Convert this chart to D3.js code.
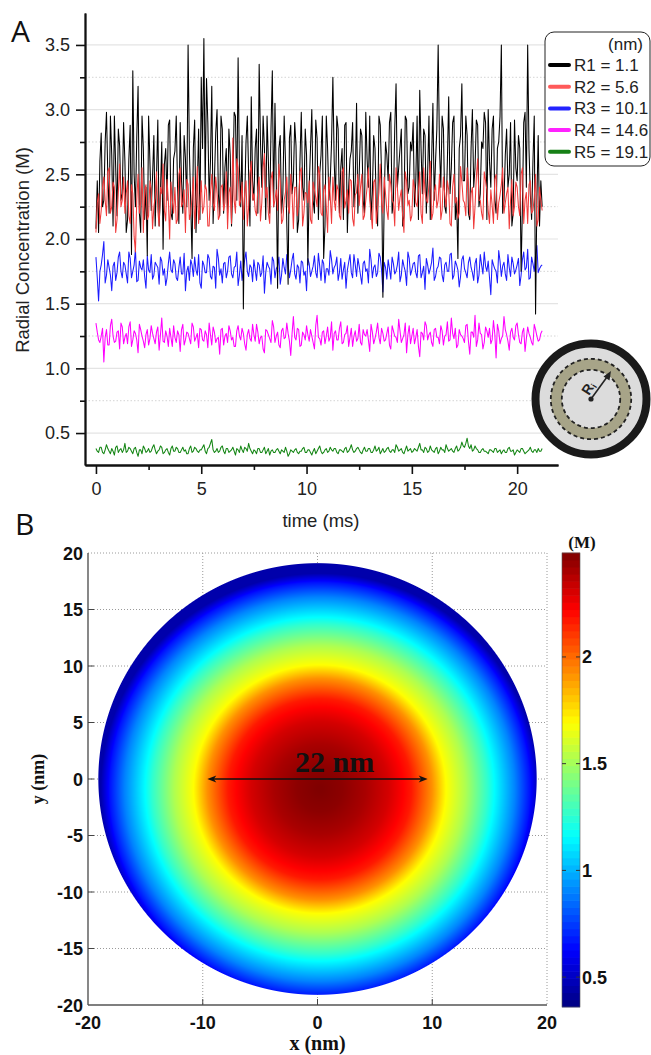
<!DOCTYPE html>
<html><head><meta charset="utf-8">
<script src="https://cdn.jsdelivr.net/npm/d3@7"></script>
<style>body{margin:0;background:#fff} svg{display:block}</style>
</head><body>
<svg id="chart" width="651" height="1055"></svg>
<script>
// ---------- Panel A data ----------
const dt = 0.0625; // sampling interval (ms)
const seriesNames = ["R1 = 1.1","R2 = 5.6","R3 = 10.1","R4 = 14.6","R5 = 19.1"];
const seriesColors = ["#000000","#f03a3a","#1c1cff","#ff00ff","#138513"];
const legendColors = ["#000000","#ff5a5a","#2323ff","#ff22ff","#168016"];
// samples at even steps (a) and odd steps (b)
const r1a = [2.08,2.05,2.82,2.30,2.98,2.20,2.65,2.95,2.18,2.72,
2.35,2.60,2.15,2.88,3.30,2.25,3.18,2.05,2.70,2.40,
2.95,2.22,2.80,2.48,2.10,2.75,2.58,2.30,2.92,2.15,
2.68,2.40,2.90,2.20,2.62,3.50,2.28,2.70,2.05,2.85,
3.25,3.55,3.24,2.30,3.18,2.45,3.00,2.18,2.85,2.55,
2.20,2.65,2.40,2.95,3.40,2.25,1.46,2.75,2.50,3.10,
2.30,2.85,3.35,2.40,2.70,2.95,2.20,3.30,3.05,1.62,
2.80,2.35,2.60,1.65,2.88,2.45,2.72,2.15,2.98,2.30,
2.65,2.40,3.00,2.20,2.78,2.50,2.95,2.10,2.70,2.45,
3.25,2.30,2.85,2.55,2.15,2.90,2.40,2.68,2.25,3.05,
2.50,2.80,2.20,2.62,2.95,2.35,2.70,2.10,2.88,1.55,
2.75,2.45,2.98,2.30,3.20,2.55,2.85,2.18,2.92,2.40,
2.68,2.25,2.95,3.15,2.35,2.80,2.50,2.15,3.05,2.60,
3.50,2.40,2.85,2.20,3.10,2.55,2.95,2.30,2.70,3.20,
2.45,2.80,2.15,3.00,2.55,2.88,2.35,2.70,2.90,3.00,
2.40,2.95,2.20,2.75,3.50,2.30,2.85,2.50,2.10,2.92,
2.45,2.70,2.25,2.98,3.50,2.35,2.60,1.42,2.80,2.45];
const r1b = [2.45,2.60,2.25,2.75,2.50,2.95,2.10,2.55,2.85,2.30,
2.90,2.05,2.62,1.88,2.50,2.78,2.20,2.95,2.15,1.87,
2.60,2.48,2.10,2.92,2.35,1.92,2.70,2.88,2.20,2.62,
2.95,2.12,2.45,2.80,2.25,2.68,1.85,2.92,2.40,2.15,
2.70,2.40,2.90,2.60,2.12,2.82,2.35,2.95,2.20,2.70,
2.85,2.10,2.98,2.30,2.55,2.80,2.30,2.95,2.10,2.45,
2.70,2.20,2.75,2.95,2.15,2.60,2.85,2.25,2.45,2.70,
2.20,2.95,2.12,2.78,2.35,2.90,2.05,2.60,2.40,2.85,
1.80,2.70,2.30,2.92,2.15,2.65,1.85,2.95,2.30,2.75,
2.60,2.95,2.20,2.70,2.88,2.05,2.62,2.90,2.45,2.20,
2.85,2.30,2.98,2.40,2.15,2.80,2.25,2.95,2.50,2.30,
2.65,2.90,2.20,2.85,2.40,2.70,2.10,2.95,2.35,2.75,
2.90,2.45,2.15,2.70,2.85,2.20,2.95,2.60,2.30,2.85,
2.70,2.95,2.25,2.60,2.35,2.90,2.15,1.85,2.80,2.45,
2.95,2.20,2.70,2.40,2.92,2.25,2.75,2.98,2.15,2.60,
2.85,2.30,2.70,2.95,2.20,2.65,2.40,2.90,2.20,2.55,
2.80,1.75,2.90,2.40,2.70,2.15,2.95,2.30,2.10,2.25];
const r2a = [2.05,2.35,2.22,2.48,2.18,2.55,2.25,2.40,2.15,2.58,
2.30,2.20,2.45,2.12,2.35,1.90,2.50,2.28,2.05,2.42,
2.18,2.38,2.25,2.52,2.10,2.35,2.22,2.46,2.00,2.30,
2.40,2.15,2.55,2.28,2.05,2.42,2.20,2.48,2.32,2.12,
2.45,2.25,2.38,2.10,2.50,2.22,2.35,2.18,2.42,2.28,
2.08,2.40,2.78,2.20,2.55,2.30,2.15,2.45,2.25,2.60,
2.35,2.18,2.48,2.28,2.66,2.40,2.12,2.52,2.30,2.22,
2.44,2.15,2.36,2.25,2.50,2.08,2.40,2.28,2.55,2.20,
2.35,2.45,2.12,2.38,2.25,2.50,2.18,2.42,2.05,2.33,
2.48,2.22,2.38,2.15,2.55,2.30,2.20,2.45,2.10,2.36,
2.26,2.50,2.18,2.40,2.30,2.08,2.46,2.25,2.58,2.20,
2.35,2.15,2.42,2.28,2.55,2.22,2.38,2.05,2.45,2.30,
2.18,2.40,2.25,2.52,2.12,2.36,2.28,2.60,2.20,2.42,
2.30,2.15,2.48,2.25,2.38,2.10,2.50,2.32,2.20,2.44,
2.28,2.55,2.18,2.40,2.25,2.62,2.30,2.15,2.45,2.22,
2.38,2.12,2.50,2.28,2.42,2.20,2.35,2.08,2.46,2.25,
2.40,2.18,2.55,2.30,2.12,2.45,2.22,2.50,2.15,2.30];
const r2b = [2.28,2.12,2.40,2.30,2.52,2.20,2.44,2.05,2.36,2.25,
2.48,2.35,2.18,2.42,2.02,2.30,2.20,2.55,2.38,2.15,
2.45,2.08,2.32,2.22,2.40,2.58,2.14,2.30,2.44,2.20,
2.12,2.50,2.25,2.38,2.46,2.15,2.32,2.08,2.56,2.28,
2.20,2.42,2.10,2.35,2.28,2.48,2.15,2.40,2.22,2.52,
2.36,2.12,2.30,2.62,2.26,2.44,2.35,2.10,2.50,2.30,
2.22,2.40,2.14,2.55,2.32,2.20,2.46,2.25,2.38,2.58,
2.12,2.30,2.48,2.20,2.35,2.40,2.18,2.52,2.10,2.36,
2.28,2.15,2.44,2.32,2.56,2.20,2.38,2.25,2.48,2.12,
2.30,2.42,2.18,2.52,2.24,2.38,2.46,2.16,2.34,2.50,
2.40,2.15,2.30,2.55,2.20,2.44,2.12,2.36,2.28,2.48,
2.22,2.50,2.30,2.10,2.40,2.32,2.18,2.52,2.26,2.14,
2.46,2.28,2.38,2.20,2.55,2.30,2.42,2.15,2.36,2.24,
2.50,2.22,2.34,2.45,2.12,2.40,2.28,2.16,2.56,2.30,
2.18,2.42,2.35,2.08,2.48,2.30,2.20,2.52,2.38,2.12,
2.26,2.46,2.15,2.34,2.55,2.28,2.40,2.30,2.18,2.44,
2.25,2.50,2.12,2.36,2.42,2.20,2.32,2.10,2.40,2.22];
const r3a = [1.86,1.52,1.80,1.98,1.72,1.78,1.60,1.82,1.74,1.90,
1.70,1.80,1.66,1.85,1.75,1.92,1.68,1.78,1.84,1.62,
1.76,1.88,1.72,1.80,1.65,1.83,1.77,1.70,1.90,1.74,
1.81,1.68,1.86,1.73,1.60,1.79,1.84,1.71,1.76,1.88,
1.62,1.80,1.74,1.85,1.69,1.78,1.92,1.72,1.66,1.82,
1.75,1.87,1.70,1.79,1.64,1.83,1.76,1.90,1.71,1.78,
1.84,1.68,1.80,1.74,1.58,1.82,1.77,1.86,1.70,1.79,
1.65,1.85,1.73,1.80,1.76,1.89,1.69,1.78,1.83,1.72,
1.60,1.81,1.75,1.87,1.70,1.79,1.84,1.66,1.77,1.91,
1.73,1.80,1.68,1.85,1.76,1.62,1.82,1.74,1.88,1.71,
1.79,1.65,1.83,1.77,1.92,1.70,1.80,1.74,1.86,1.59,
1.78,1.84,1.69,1.81,1.75,1.90,1.72,1.79,1.64,1.85,
1.76,1.82,1.70,1.88,1.74,1.61,1.80,1.77,1.93,1.71,
1.79,1.85,1.67,1.82,1.75,1.89,1.72,1.80,1.63,1.84,
1.77,1.70,1.86,1.74,1.81,1.66,1.88,1.73,1.79,1.83,
1.57,1.80,1.75,1.91,1.71,1.82,1.68,1.78,1.86,1.73,
1.80,1.64,1.84,1.76,1.92,1.70,1.81,1.88,1.74,1.79];
const r3b = [1.70,1.75,1.88,1.66,1.84,1.72,1.79,1.68,1.86,1.75,
1.82,1.73,1.90,1.70,1.80,1.67,1.83,1.76,1.71,1.87,
1.74,1.69,1.82,1.78,1.86,1.72,1.64,1.81,1.76,1.84,
1.70,1.78,1.73,1.89,1.75,1.68,1.80,1.86,1.72,1.66,
1.83,1.74,1.88,1.71,1.79,1.62,1.85,1.77,1.81,1.70,
1.86,1.73,1.78,1.90,1.72,1.68,1.84,1.75,1.80,1.67,
1.76,1.82,1.71,1.87,1.74,1.79,1.65,1.83,1.77,1.86,
1.72,1.78,1.88,1.70,1.84,1.73,1.80,1.66,1.82,1.75,
1.85,1.71,1.79,1.74,1.89,1.68,1.81,1.77,1.72,1.84,
1.78,1.86,1.74,1.69,1.82,1.76,1.88,1.70,1.80,1.85,
1.72,1.81,1.75,1.66,1.84,1.78,1.71,1.89,1.76,1.82,
1.69,1.77,1.86,1.73,1.80,1.67,1.84,1.75,1.90,1.72,
1.81,1.74,1.87,1.70,1.79,1.85,1.73,1.82,1.68,1.77,
1.86,1.72,1.80,1.75,1.88,1.69,1.83,1.76,1.71,1.87,
1.74,1.82,1.78,1.68,1.85,1.72,1.80,1.90,1.75,1.70,
1.84,1.77,1.66,1.83,1.79,1.73,1.88,1.71,1.81,1.76,
1.85,1.72,1.90,1.78,1.69,1.86,1.75,1.95,1.77,1.80];
const r4a = [1.35,1.22,1.25,1.05,1.30,1.18,1.38,1.20,1.28,1.15,
1.32,1.24,1.19,1.36,1.22,1.27,1.12,1.30,1.21,1.26,
1.18,1.33,1.23,1.28,1.14,1.39,1.20,1.25,1.31,1.17,
1.24,1.29,1.13,1.34,1.22,1.27,1.19,1.32,1.24,1.16,
1.30,1.21,1.26,1.35,1.18,1.28,1.23,1.11,1.31,1.25,
1.20,1.29,1.24,1.17,1.33,1.22,1.27,1.14,1.30,1.21,
1.26,1.34,1.19,1.25,1.12,1.29,1.23,1.37,1.20,1.28,
1.16,1.31,1.24,1.27,1.10,1.40,1.22,1.30,1.18,1.26,
1.33,1.21,1.25,1.15,1.41,1.23,1.28,1.19,1.32,1.24,
1.14,1.29,1.22,1.36,1.20,1.27,1.17,1.31,1.25,1.21,
1.34,1.18,1.26,1.30,1.13,1.28,1.23,1.35,1.19,1.27,
1.22,1.32,1.15,1.29,1.24,1.38,1.20,1.26,1.12,1.33,
1.25,1.19,1.30,1.09,1.27,1.36,1.22,1.28,1.17,1.31,
1.24,1.33,1.18,1.26,1.21,1.39,1.23,1.16,1.30,1.25,
1.20,1.34,1.11,1.28,1.41,1.22,1.27,1.15,1.32,1.24,
1.19,1.37,1.08,1.29,1.23,1.40,1.26,1.14,1.31,1.22,
1.35,1.20,1.28,1.13,1.32,1.24,1.18,1.30,1.21,1.27];
const r4b = [1.28,1.20,1.31,1.24,1.18,1.33,1.25,1.21,1.29,1.35,
1.19,1.27,1.32,1.17,1.29,1.22,1.34,1.25,1.16,1.30,
1.23,1.27,1.19,1.32,1.26,1.21,1.29,1.17,1.24,1.33,
1.20,1.26,1.30,1.18,1.28,1.23,1.35,1.21,1.27,1.31,
1.22,1.29,1.16,1.26,1.32,1.20,1.24,1.30,1.18,1.27,
1.33,1.22,1.17,1.29,1.25,1.31,1.19,1.26,1.23,1.34,
1.21,1.28,1.24,1.15,1.30,1.26,1.20,1.32,1.25,1.18,
1.29,1.23,1.35,1.21,1.27,1.24,1.31,1.17,1.28,1.22,
1.26,1.30,1.20,1.33,1.24,1.18,1.29,1.25,1.21,1.36,
1.27,1.22,1.31,1.19,1.26,1.33,1.24,1.17,1.29,1.23,
1.20,1.30,1.25,1.22,1.34,1.19,1.28,1.24,1.31,1.21,
1.27,1.18,1.33,1.25,1.20,1.29,1.23,1.35,1.26,1.19,
1.31,1.24,1.17,1.28,1.22,1.33,1.26,1.20,1.30,1.24,
1.19,1.29,1.25,1.36,1.22,1.27,1.31,1.18,1.26,1.23,
1.33,1.21,1.28,1.24,1.17,1.35,1.26,1.20,1.29,1.31,
1.22,1.27,1.34,1.19,1.25,1.30,1.21,1.28,1.24,1.33,
1.26,1.19,1.31,1.23,1.27,1.20,1.34,1.25,1.22,1.29];
const r5a = [0.38,0.35,0.39,0.34,0.41,0.36,0.38,0.33,0.40,0.37,
0.35,0.42,0.36,0.38,0.34,0.39,0.32,0.37,0.40,0.35,
0.38,0.36,0.41,0.34,0.37,0.39,0.35,0.38,0.33,0.40,
0.36,0.38,0.35,0.39,0.37,0.34,0.40,0.36,0.38,0.35,
0.37,0.41,0.34,0.39,0.45,0.35,0.38,0.36,0.40,0.34,
0.38,0.36,0.39,0.33,0.37,0.40,0.35,0.38,0.42,0.36,
0.37,0.34,0.38,0.35,0.39,0.36,0.33,0.37,0.35,0.38,
0.34,0.36,0.39,0.32,0.37,0.35,0.38,0.34,0.36,0.39,
0.35,0.37,0.33,0.38,0.36,0.40,0.34,0.37,0.35,0.39,
0.36,0.38,0.34,0.37,0.35,0.39,0.36,0.41,0.35,0.38,
0.37,0.34,0.39,0.36,0.38,0.35,0.40,0.37,0.34,0.38,
0.36,0.39,0.35,0.37,0.41,0.36,0.38,0.34,0.40,0.37,
0.35,0.38,0.36,0.42,0.37,0.39,0.35,0.40,0.36,0.38,
0.34,0.39,0.37,0.41,0.36,0.38,0.35,0.40,0.37,0.43,
0.39,0.46,0.38,0.36,0.40,0.37,0.35,0.38,0.36,0.34,
0.37,0.35,0.38,0.36,0.34,0.37,0.35,0.39,0.36,0.33,
0.37,0.35,0.38,0.34,0.36,0.39,0.35,0.37,0.38,0.36];
const r5b = [0.36,0.39,0.35,0.37,0.38,0.34,0.36,0.39,0.35,0.38,
0.37,0.35,0.39,0.36,0.38,0.35,0.37,0.34,0.38,0.36,
0.35,0.39,0.37,0.36,0.40,0.34,0.37,0.35,0.38,0.36,
0.39,0.35,0.37,0.36,0.34,0.38,0.35,0.39,0.36,0.37,
0.39,0.36,0.38,0.42,0.37,0.36,0.35,0.39,0.36,0.38,
0.35,0.37,0.36,0.38,0.35,0.37,0.39,0.36,0.38,0.34,
0.36,0.38,0.35,0.37,0.34,0.38,0.36,0.35,0.37,0.36,
0.37,0.35,0.36,0.34,0.36,0.37,0.35,0.36,0.38,0.35,
0.37,0.35,0.36,0.34,0.38,0.36,0.35,0.38,0.36,0.37,
0.38,0.35,0.37,0.36,0.38,0.35,0.38,0.37,0.36,0.39,
0.35,0.37,0.36,0.38,0.35,0.37,0.36,0.39,0.36,0.35,
0.38,0.36,0.37,0.35,0.39,0.37,0.35,0.37,0.36,0.38,
0.36,0.37,0.39,0.37,0.35,0.38,0.36,0.37,0.35,0.39,
0.36,0.37,0.35,0.38,0.37,0.36,0.38,0.36,0.39,0.40,
0.42,0.40,0.41,0.37,0.38,0.35,0.37,0.36,0.35,0.37,
0.36,0.38,0.35,0.37,0.36,0.35,0.38,0.36,0.37,0.35,
0.36,0.38,0.36,0.35,0.37,0.36,0.37,0.35,0.36,0.38];
const yTicksA = [0.5,1.0,1.5,2.0,2.5,3.0,3.5];
const yMinorA = [0.75,1.25,1.75,2.25,2.75,3.25];
const xTicksA = [0,5,10,15,20];
const xMinorA = [2.5,7.5,12.5,17.5];

// ---------- Panel B data ----------
const profileR = [0,2,4,6,8,9.8,11,12.7,14.6,15.2,17,18.3,19.1];                 // nm
const profileC = [2.49,2.46,2.40,2.31,2.17,1.92,1.69,1.52,1.26,1.16,0.90,0.66,0.45]; // M
const peakCenter = [0.2,-0.9];
const discRadius = 19.1;
const cbarDomain = [0.36,2.487];
const cbarTicks = [0.5,1,1.5,2];
const xTicksB = [-20,-10,0,10,20];
const yTicksB = [-20,-15,-10,-5,0,5,10,15,20];
const arrowEnds = [-9.6,9.6];

const svg = d3.select("#chart");
const sans = "'Liberation Sans', Arial, sans-serif";
const serif = "'Liberation Serif', 'Times New Roman', serif";

// ================= PANEL A =================
const xA = d3.scaleLinear([-0.52,21.94],[85,558]);
const yA = d3.scaleLinear([0.253,3.747],[465,13]);
const gA = svg.append("g");
gA.append("g").selectAll("line").data(yTicksA).join("line")
  .attr("x1",85).attr("x2",558).attr("y1",d=>yA(d)).attr("y2",d=>yA(d))
  .attr("stroke","#e4e4e4").attr("stroke-width",1.2);
gA.append("g").selectAll("line").data(yMinorA).join("line")
  .attr("x1",85).attr("x2",558).attr("y1",d=>yA(d)).attr("y2",d=>yA(d))
  .attr("stroke","#d4d4d4").attr("stroke-width",1).attr("stroke-dasharray","1.5,2");

const interleave = (a,b)=>a.flatMap((v,i)=>[v,b[i]]);
const allSeries = [interleave(r1a,r1b),interleave(r2a,r2b),interleave(r3a,r3b),interleave(r4a,r4b),interleave(r5a,r5b)];
const line = d3.line().x((d,i)=>xA(i*dt)).y(d=>yA(d));
[2,3,4,0,1].forEach(k=>{
  gA.append("path").datum(allSeries[k]).attr("d",line)
    .attr("fill","none").attr("stroke",seriesColors[k]).attr("stroke-width",1.05)
    .attr("stroke-linejoin","round");
});

gA.append("g").attr("transform","translate(85,0)")
  .call(d3.axisLeft(yA).tickValues(yTicksA).tickFormat(d3.format(".1f")).tickSize(9).tickSizeOuter(0).tickPadding(6));
gA.append("g").attr("transform","translate(85,0)")
  .call(d3.axisLeft(yA).tickValues(yMinorA).tickFormat("").tickSize(5).tickSizeOuter(0));
gA.append("g").attr("transform","translate(0,465)")
  .call(d3.axisBottom(xA).tickValues(xTicksA).tickFormat(d3.format("d")).tickSize(9).tickSizeOuter(0).tickPadding(8));
gA.append("g").attr("transform","translate(0,465)")
  .call(d3.axisBottom(xA).tickValues(xMinorA).tickFormat("").tickSize(5).tickSizeOuter(0));
gA.selectAll(".domain").attr("stroke","#111").attr("stroke-width",1.8);
gA.selectAll(".tick line").attr("stroke","#111").attr("stroke-width",1.6);
gA.selectAll(".tick text").attr("font-family",sans).attr("font-size",18).attr("fill","#222");

gA.append("text").attr("transform","translate(29,250) rotate(-90)").attr("text-anchor","middle")
  .attr("font-family",sans).attr("font-size",18.5).attr("fill","#222").text("Radial Concentration (M)");
gA.append("text").attr("x",321).attr("y",527).attr("text-anchor","middle")
  .attr("font-family",sans).attr("font-size",18.5).attr("fill","#222").text("time (ms)");
svg.append("text").attr("x",11).attr("y",42).attr("font-family","'Open Sans', sans-serif").attr("font-size",30).attr("fill","#111").text("A");
svg.append("text").attr("x",15).attr("y",535).attr("font-family","'Open Sans', sans-serif").attr("font-size",30).attr("fill","#111").text("B");

// legend
const lg = gA.append("g");
lg.append("rect").attr("x",545).attr("y",32).attr("width",105).attr("height",134).attr("rx",9)
  .attr("fill","#fff").attr("stroke","#222").attr("stroke-width",1);
lg.append("text").attr("x",643).attr("y",50).attr("text-anchor","end").attr("font-family",sans).attr("font-size",17).attr("fill","#222").text("(nm)");
seriesNames.forEach((n,i)=>{
  const cy = 65 + i*21.7;
  lg.append("line").attr("x1",550).attr("x2",569).attr("y1",cy).attr("y2",cy)
    .attr("stroke",legendColors[i]).attr("stroke-width",4).attr("stroke-linecap","round");
  lg.append("text").attr("x",574).attr("y",cy+6).attr("font-family",sans).attr("font-size",17).attr("fill","#222").text(n);
});

// inset schematic
const ins = gA.append("g").attr("transform","translate(591,399)");
ins.append("circle").attr("r",55.5).attr("fill","#dcdcdc").attr("stroke","#1a1a1a").attr("stroke-width",8);
ins.append("circle").attr("r",34.7).attr("fill","none").attr("stroke","#a7a488").attr("stroke-width",11);
ins.append("circle").attr("r",40.2).attr("fill","none").attr("stroke","#222").attr("stroke-width",1.8).attr("stroke-dasharray","4,3");
ins.append("circle").attr("r",29.2).attr("fill","none").attr("stroke","#222").attr("stroke-width",1.8).attr("stroke-dasharray","4,3");
ins.append("circle").attr("r",2.6).attr("fill","#222");
ins.append("line").attr("x1",0).attr("y1",0).attr("x2",16).attr("y2",-22).attr("stroke","#222").attr("stroke-width",1.6);
ins.append("path").attr("d","M20,-28 L12.5,-22.5 L18.5,-18.5 Z").attr("fill","#222");
const rl = ins.append("text").attr("transform","translate(-2,-3) rotate(-58)").attr("font-family",sans).attr("font-weight","bold").attr("font-size",14).attr("fill","#222");
rl.append("tspan").text("R");
rl.append("tspan").attr("font-size",9).attr("dy",2).text("i");

// ================= PANEL B =================
const xB = d3.scaleLinear([-20,20],[88,547]);
const yB = d3.scaleLinear([-20,20],[1005,553]);
const gB = svg.append("g");
const grid = gB.append("g").attr("stroke","#9a9a9a").attr("stroke-width",1).attr("stroke-dasharray","1,2");
grid.selectAll("line.v").data(xTicksB.slice(1)).join("line").attr("class","v")
  .attr("x1",d=>xB(d)).attr("x2",d=>xB(d)).attr("y1",yB(20)).attr("y2",yB(-20));
grid.selectAll("line.h").data(yTicksB.slice(1)).join("line").attr("class","h")
  .attr("x1",xB(-20)).attr("x2",xB(20)).attr("y1",d=>yB(d)).attr("y2",d=>yB(d));

function jet(v){
  const c = t=>Math.max(0,Math.min(1,t));
  return [c(1.5-Math.abs(4*v-3)), c(1.5-Math.abs(4*v-2)), c(1.5-Math.abs(4*v-1))].map(x=>Math.round(x*255));
}
const prof = d3.scaleLinear(profileR, profileC).clamp(true);
const cnorm = d3.scaleLinear(cbarDomain,[0,1]).clamp(true);
const x0 = xB(-20), y0 = yB(20);
const W = Math.round(xB(20)-x0), H = Math.round(yB(-20)-y0);
const canvas = document.createElement("canvas"); canvas.width=W; canvas.height=H;
const ctx = canvas.getContext("2d"); const img = ctx.createImageData(W,H);
const pxSize = 40/W;
for(let py=0; py<H; py++){
  for(let px=0; px<W; px++){
    const x = xB.invert(x0+px+0.5), y = yB.invert(y0+py+0.5);
    const r = Math.hypot(x,y);
    const a = Math.max(0,Math.min(1,(discRadius - r)/pxSize + 0.5));
    if(a<=0) continue;
    const rp = Math.hypot(x-peakCenter[0], y-peakCenter[1]);
    const col = jet(cnorm(prof(rp)));
    const o = (py*W+px)*4;
    img.data[o]=col[0]; img.data[o+1]=col[1]; img.data[o+2]=col[2]; img.data[o+3]=Math.round(a*255);
  }
}
ctx.putImageData(img,0,0);
gB.append("image").attr("x",x0).attr("y",y0).attr("width",W).attr("height",H).attr("href",canvas.toDataURL());

gB.append("line").attr("x1",xB(-20)).attr("x2",xB(-20)).attr("y1",yB(20)).attr("y2",yB(-20)).attr("stroke","#555").attr("stroke-width",1.4);
gB.append("line").attr("x1",xB(-20)).attr("x2",xB(20)).attr("y1",yB(-20)).attr("y2",yB(-20)).attr("stroke","#555").attr("stroke-width",1.4);
gB.append("g").selectAll("line").data(xTicksB.slice(1,-1)).join("line")
  .attr("x1",d=>xB(d)).attr("x2",d=>xB(d)).attr("y1",yB(-20)).attr("y2",yB(-20)-6).attr("stroke","#444").attr("stroke-width",1);
gB.append("g").selectAll("line").data(yTicksB.slice(1,-1)).join("line")
  .attr("x1",xB(-20)).attr("x2",xB(-20)+6).attr("y1",d=>yB(d)).attr("y2",d=>yB(d)).attr("stroke","#444").attr("stroke-width",1);
gB.append("g").selectAll("text").data(yTicksB).join("text")
  .attr("x",xB(-20)-5).attr("y",d=>yB(d)+6.5).attr("text-anchor","end")
  .attr("font-family",sans).attr("font-weight","bold").attr("font-size",18).attr("fill","#111").text(d=>d);
gB.append("g").selectAll("text").data(xTicksB).join("text")
  .attr("x",d=>xB(d)).attr("y",1029).attr("text-anchor","middle")
  .attr("font-family",sans).attr("font-weight","bold").attr("font-size",18).attr("fill","#111").text(d=>d);
gB.append("text").attr("x",xB(0)).attr("y",1050).attr("text-anchor","middle")
  .attr("font-family",serif).attr("font-weight","bold").attr("font-size",20).attr("fill","#111").text("x (nm)");
gB.append("text").attr("transform",`translate(44,${yB(0)}) rotate(-90)`).attr("text-anchor","middle")
  .attr("font-family",serif).attr("font-weight","bold").attr("font-size",18).attr("fill","#111").text("y (nm)");

const ay = yB(0);
gB.append("line").attr("x1",xB(arrowEnds[0])+4).attr("x2",xB(arrowEnds[1])-4).attr("y1",ay).attr("y2",ay).attr("stroke","#111").attr("stroke-width",1.6);
gB.append("path").attr("d",`M${xB(arrowEnds[0])},${ay} l9,-3.5 l-2.5,3.5 l2.5,3.5 Z`).attr("fill","#111");
gB.append("path").attr("d",`M${xB(arrowEnds[1])},${ay} l-9,-3.5 l2.5,3.5 l-2.5,3.5 Z`).attr("fill","#111");
gB.append("text").attr("x",xB(1.5)).attr("y",ay-7).attr("text-anchor","middle")
  .attr("font-family",serif).attr("font-weight","bold").attr("font-size",30).attr("fill","#111").text("22 nm");

const yC = d3.scaleLinear(cbarDomain,[1007,553]);
const nSteps = 64;
const stepVals = d3.range(nSteps);
const stepH = (1007-553)/nSteps;
const cb = gB.append("g");
cb.selectAll("rect").data(stepVals).join("rect")
  .attr("x",562).attr("width",18)
  .attr("y",k=>yC(cbarDomain[0]+(k+1)*(cbarDomain[1]-cbarDomain[0])/nSteps)-0.3)
  .attr("height",stepH+0.6)
  .attr("fill",k=>{const c=jet((k+0.5)/nSteps); return `rgb(${c[0]},${c[1]},${c[2]})`;});
cb.append("rect").attr("x",562).attr("y",553).attr("width",18).attr("height",454).attr("fill","none").attr("stroke","#555").attr("stroke-width",0.6);
cb.selectAll("line.l").data(cbarTicks).join("line").attr("class","l")
  .attr("x1",562).attr("x2",566).attr("y1",d=>yC(d)).attr("y2",d=>yC(d)).attr("stroke","#333").attr("stroke-width",1);
cb.selectAll("line.r").data(cbarTicks).join("line").attr("class","r")
  .attr("x1",576).attr("x2",580).attr("y1",d=>yC(d)).attr("y2",d=>yC(d)).attr("stroke","#333").attr("stroke-width",1);
cb.selectAll("text.t").data(cbarTicks).join("text").attr("class","t")
  .attr("x",582).attr("y",d=>yC(d)+6.5).attr("font-family",sans).attr("font-weight","bold").attr("font-size",18).attr("fill","#111").text(d=>d);
cb.append("text").attr("x",582).attr("y",548).attr("text-anchor","middle")
  .attr("font-family",serif).attr("font-weight","bold").attr("font-size",17).attr("fill","#111").text("(M)");
</script>
</body></html>
